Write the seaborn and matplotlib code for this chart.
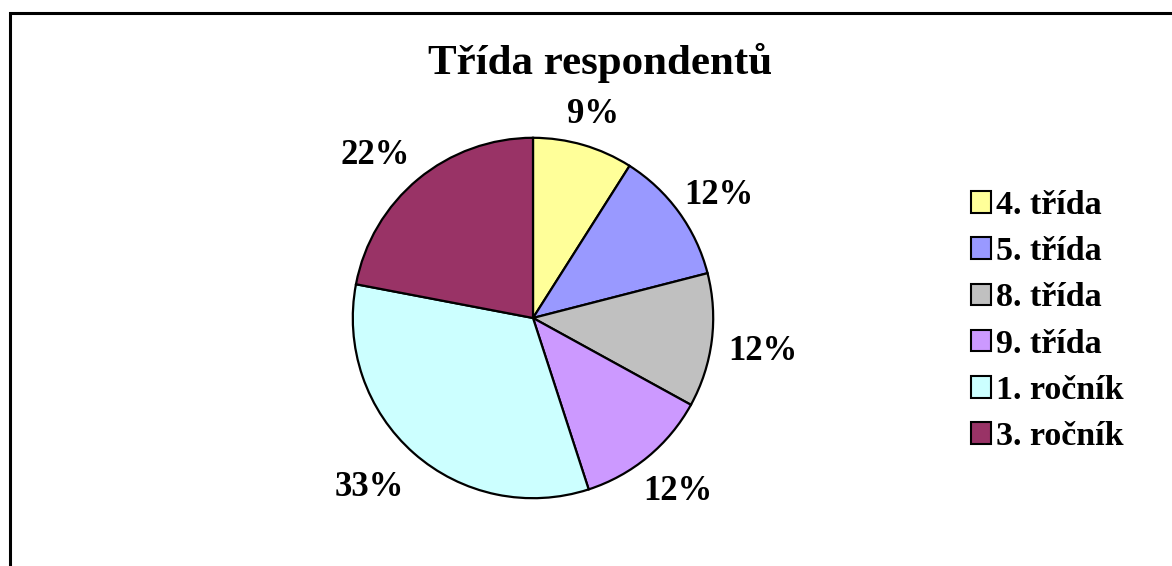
import matplotlib
matplotlib.use("Agg")
import numpy as np
import matplotlib.pyplot as plt
import matplotlib.patches as mpatches
import seaborn as sns

# data
categories = ["4. třída", "5. třída", "8. třída", "9. třída", "1. ročník", "3. ročník"]
shares = [9, 12, 12, 12, 33, 22]
slice_colors = ["#FFFF99", "#9999FF", "#C0C0C0", "#CC99FF", "#CCFFFF", "#993366"]
title = "Třída respondentů"

sns.set_theme(style="white")
plt.rcParams["font.family"] = ["Liberation Serif", "DejaVu Serif"]
plt.rcParams["font.weight"] = "bold"
plt.rcParams["text.color"] = "black"

fig = plt.figure(figsize=(11.72, 5.66), dpi=100)
W, H = 1172, 566

# outer chart frame (cut off at right and bottom like the original)
frame = mpatches.Rectangle((10 / W, -0.05), 1.2, 1 - 13 / H + 0.05, transform=fig.transFigure,
                           fill=False, edgecolor="black", linewidth=2.2)
fig.patches.append(frame)

cx, cy, r = 533, 318, 182
ax = fig.add_axes([(cx - r) / W, (H - cy - r) / H, 2 * r / W, 2 * r / H])
pal = sns.color_palette(slice_colors)
wedges, _ = ax.pie(shares, colors=pal, startangle=90, counterclock=False,
                   wedgeprops=dict(edgecolor="black", linewidth=1.6))

# percentage labels placed outside each slice, Excel style (slightly elliptical ring)
for w, val in zip(wedges, shares):
    ang = np.deg2rad((w.theta1 + w.theta2) / 2)
    x = 1.32 * np.cos(ang) - 0.035
    y = 1.21 * np.sin(ang) - 0.033
    ax.text(x, y, f"{val}%", ha="center", va="center", fontsize=25,
            fontweight="bold", color="black", clip_on=False)

ax.set_xlim(-1.01, 1.01)
ax.set_ylim(-1.01, 1.01)
ax.set_aspect("equal")
ax.axis("off")

fig.text(600 / W, 1 - 63 / H, title, ha="center", va="center", fontsize=31, fontweight="bold")

handles = [mpatches.Patch(facecolor=c, edgecolor="black", linewidth=1.5) for c in slice_colors]
fig.legend(handles, categories, loc="center left", bbox_to_anchor=(940 / W, 1 - 321 / H),
           frameon=False, handlelength=0.6, handleheight=0.6,
           handletextpad=0.15, labelspacing=0.45, prop={"weight": "bold", "size": 24.5})

fig.savefig("out.png", dpi=100, facecolor="white")
